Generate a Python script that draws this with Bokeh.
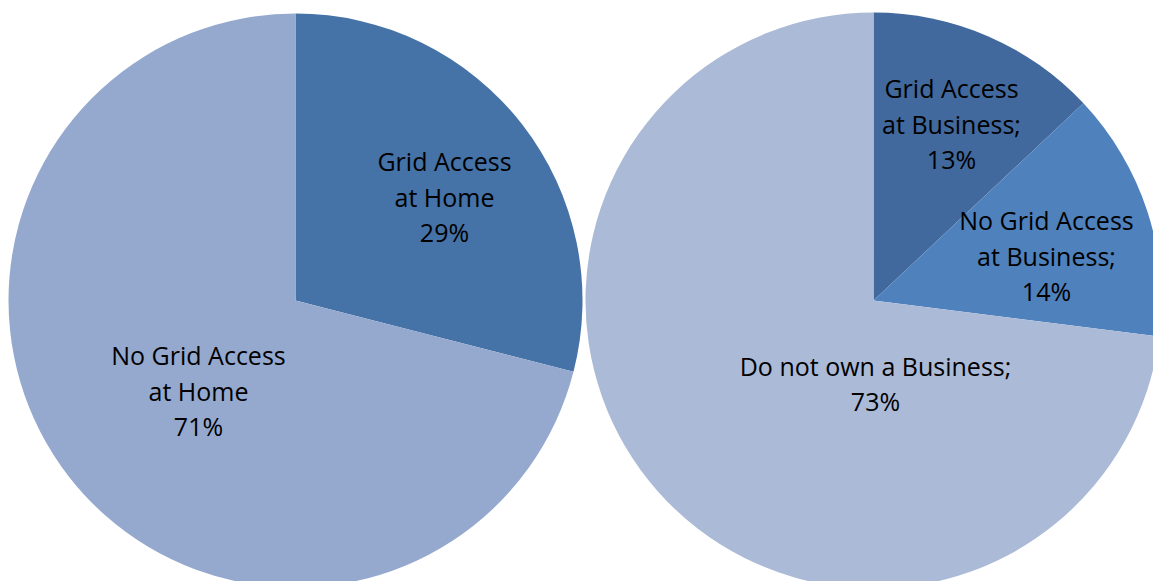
import math
from bokeh.plotting import figure
from bokeh.models import Range1d, ColumnDataSource
from bokeh.core.properties import value
from bokeh.embed import file_html
from bokeh.resources import INLINE

# ---- data ----
home_categories = ["Grid Access at Home", "No Grid Access at Home"]
home_values = [29, 71]
home_label_lines = [["Grid Access", "at Home"], ["No Grid Access", "at Home"]]

business_categories = ["Grid Access at Business", "No Grid Access at Business", "Do not own a Business"]
business_values = [13, 14, 73]
business_label_lines = [["Grid Access", "at Business;"], ["No Grid Access", "at Business;"], ["Do not own a Business;"]]

# ---- style / layout ----
W, H = 1153, 581
FONT = "Open Sans"
FONT_SIZE = 25
LINE_H = 35.5

home_colors = ["#4572A7", "#95A9CF"]
business_colors = ["#41699D", "#4F81BD", "#ABBAD7"]

# pie centers in page px and radius
pies = [
    dict(cx=295, cy=300, r=287, values=home_values, cats=home_categories,
         lines=home_label_lines, colors=home_colors,
         label_off=[(149, -104), (-97, 90)]),
    dict(cx=873, cy=300, r=288, values=business_values, cats=business_categories,
         lines=business_label_lines, colors=business_colors,
         label_off=[(78, -177), (173, -45), (2, 83)]),
]

p = figure(width=W, height=H, output_backend="svg", toolbar_location=None,
           x_range=Range1d(0, W), y_range=Range1d(0, H), min_border=0)
p.axis.visible = False
p.grid.visible = False
p.outline_line_color = None
p.background_fill_color = "white"
p.border_fill_color = "white"

def px(x):
    return x

def py(y):
    return H - y

for pie in pies:
    total = float(sum(pie["values"]))
    cum = 0.0
    starts, ends = [], []
    for v in pie["values"]:
        starts.append(math.pi / 2 - 2 * math.pi * cum / total)
        cum += v
        ends.append(math.pi / 2 - 2 * math.pi * cum / total)
    src = ColumnDataSource(dict(x=[px(pie["cx"])] * len(starts), y=[py(pie["cy"])] * len(starts),
                                start=starts, end=ends, color=pie["colors"], cat=pie["cats"]))
    p.wedge(x="x", y="y", radius=pie["r"], start_angle="start", end_angle="end",
            direction="clock", fill_color="color", line_color=None, source=src)

    tx, ty, tt = [], [], []
    for lines, v, (dx, dy) in zip(pie["lines"], pie["values"], pie["label_off"]):
        all_lines = list(lines) + [f"{v}%"]
        n = len(all_lines)
        for i, ln in enumerate(all_lines):
            yy = pie["cy"] + dy + (i - (n - 1) / 2) * LINE_H
            tx.append(px(pie["cx"] + dx))
            ty.append(py(yy))
            tt.append(ln)
    p.text(x=tx, y=ty, text=tt, text_align="center", text_baseline="middle",
           text_font=value(FONT), text_font_size=f"{FONT_SIZE}px", text_color="black")

open("out.html", "w").write(file_html(p, INLINE))
